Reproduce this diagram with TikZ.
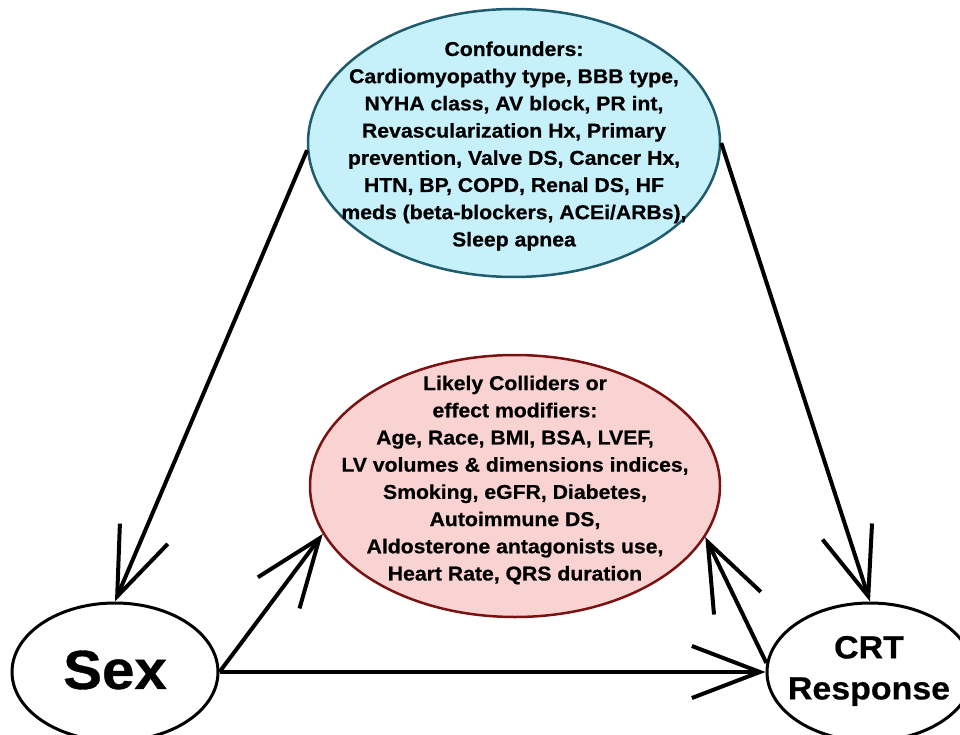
\documentclass[tikz,border=0pt]{standalone}
\usepackage{fontspec}
\setmainfont{Liberation Sans}
\newfontfamily\widefont{Liberation Sans}[FakeStretch=1.06,FakeBold=0.6]
\usetikzlibrary{shapes.geometric,arrows.meta}
\definecolor{cyanfill}{RGB}{198,240,250}
\definecolor{cyanline}{RGB}{30,92,110}
\definecolor{pinkfill}{RGB}{249,210,210}
\definecolor{pinkline}{RGB}{122,18,18}
\tikzset{
  confell/.style={ellipse, draw=cyanline, fill=cyanfill, line width=2.5pt, inner sep=0pt, minimum width=412pt, minimum height=268pt},
  collell/.style={ellipse, draw=pinkline, fill=pinkfill, line width=2.5pt, inner sep=0pt, minimum width=410pt, minimum height=262pt},
  varell/.style={ellipse, draw=black, fill=white, line width=3pt, inner sep=0pt, minimum width=206pt, minimum height=138pt},
  boxtxt/.style={align=center, inner sep=0pt, font=\widefont\fontsize{20}{27.2}\selectfont\bfseries},
  bigarrow/.style={line width=4pt, -{Straight Barb[length=68pt, width=52pt, line width=4pt]}}
}
\begin{document}
\begin{tikzpicture}[x=1pt,y=-1pt]
\useasboundingbox (0,0) rectangle (960,735);
\node[confell] (C) at (514,143) {};
\node[boxtxt] (Ct) at (514,146) {Confounders:\\Cardiomyopathy type, BBB type,\\NYHA class, AV block, PR int,\\Revascularization Hx, Primary\\prevention, Valve DS, Cancer Hx,\\HTN, BP, COPD, Renal DS, HF\\meds (beta-blockers, ACEi/ARBs),\\Sleep apnea};
\node[collell] (R) at (515,486) {};
\node[boxtxt] (Rt) at (515,480) {Likely Colliders or\\effect modifiers:\\Age, Race, BMI, BSA, LVEF,\\LV volumes \& dimensions indices,\\Smoking, eGFR, Diabetes,\\Autoimmune DS,\\Aldosterone antagonists use,\\Heart Rate, QRS duration};
\node[varell] (S) at (115,672) {};
\node[font=\widefont\fontsize{55}{60}\selectfont\bfseries, inner sep=0pt] (St) at (115,670) {Sex};
\node[varell] (T) at (870,672) {};
\node[font=\widefont\fontsize{32}{41}\selectfont\bfseries, align=center, inner sep=0pt] (Tt) at (869,671) {CRT\\Response};
\draw[bigarrow] (C.182) -- (S.north);
\draw[bigarrow] (C.east) -- (T.north);
\draw[bigarrow] (S.east) -- (R.194);
\draw[bigarrow] (S.east) -- (T.west);
\draw[bigarrow] (T.175) -- (R.-15);
\end{tikzpicture}
\end{document}
